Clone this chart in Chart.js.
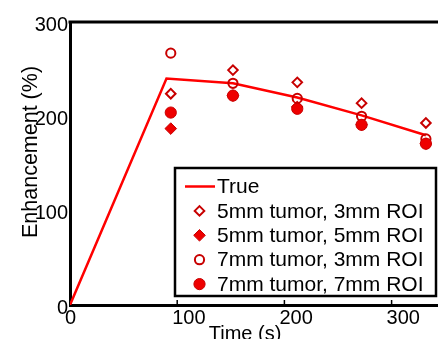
<!DOCTYPE html>
<html><head><meta charset="utf-8">
<script src="https://cdn.jsdelivr.net/npm/chart.js@4/dist/chart.umd.min.js"></script>
<style>
html,body{margin:0;padding:0;overflow:hidden;background:#fff;}
#wrap{position:absolute;left:0;top:0;width:438px;height:339px;overflow:hidden;}
#inner{position:absolute;left:0;top:0;width:452px;height:339px;}
</style></head><body>
<div id="wrap"><div id="inner"><canvas id="c" width="452" height="339"></canvas></div></div>
<script>
const trueTimes = [0, 90, 152, 212, 272, 332];
const trueValues = [0, 240, 235, 220, 201, 180];
const sampleTimes = [94, 152, 212, 272, 332];
const tumor5roi3 = [224, 249, 236, 214, 193];
const tumor5roi5 = [187, 222, 210, 191, 171];
const tumor7roi3 = [267, 235, 219, 200, 176];
const tumor7roi7 = [204, 222, 208, 191, 171];
const xTicks = [0, 100, 200, 300];
const yTicks = [0, 100, 200, 300];
const seriesLabels = ['True', '5mm tumor, 3mm ROI', '5mm tumor, 5mm ROI', '7mm tumor, 3mm ROI', '7mm tumor, 7mm ROI'];
const xTitle = 'Time (s)';
const yTitle = 'Enhancement (%)';

const FONT = '"Liberation Sans", Arial, sans-serif';
const pts = (xs, ys) => xs.map((t, i) => ({x: t, y: ys[i]}));

const DARK = '#c80000', RED = '#ee0000';

function drawMarker(ctx, style, r, cx, cy, fill, stroke, lw) {
  ctx.beginPath();
  if (style === 'circle') ctx.arc(cx, cy, r, 0, Math.PI * 2);
  else { ctx.moveTo(cx, cy - r); ctx.lineTo(cx + r, cy); ctx.lineTo(cx, cy + r); ctx.lineTo(cx - r, cy); ctx.closePath(); }
  if (fill && fill !== 'transparent') { ctx.fillStyle = fill; ctx.fill(); }
  ctx.lineWidth = lw; ctx.strokeStyle = stroke; ctx.stroke();
}

const decor = {
  id: 'decor',
  afterDraw(chart) {
    const {ctx, chartArea: a, scales: {x}} = chart;
    ctx.save();
    // top frame
    ctx.strokeStyle = '#000'; ctx.lineWidth = 3;
    ctx.beginPath(); ctx.moveTo(a.left - 1.5, a.top); ctx.lineTo(a.right + 2, a.top); ctx.stroke();
    // inward x ticks
    ctx.lineWidth = 1.5;
    xTicks.forEach(v => {
      if (v === 0) return;
      const px = x.getPixelForValue(v);
      ctx.beginPath(); ctx.moveTo(px, a.bottom); ctx.lineTo(px, a.bottom - 5); ctx.stroke();
    });
    // axis titles
    ctx.fillStyle = '#000';
    ctx.font = '20px ' + FONT;
    ctx.textAlign = 'center'; ctx.textBaseline = 'alphabetic';
    ctx.fillText(xTitle, 245, 340);
    ctx.save();
    ctx.font = '21.5px ' + FONT;
    ctx.translate(37, 152); ctx.rotate(-Math.PI / 2);
    ctx.fillText(yTitle, 0, 0);
    ctx.restore();
    // legend
    const bx = 175, by = 168, bw = 261, bh = 128;
    ctx.fillStyle = '#fff'; ctx.fillRect(bx, by, bw, bh);
    ctx.strokeStyle = '#000'; ctx.lineWidth = 2.5; ctx.strokeRect(bx, by, bw, bh);
    ctx.font = '21px ' + FONT; ctx.textAlign = 'left'; ctx.textBaseline = 'middle';
    chart.data.datasets.forEach((ds, i) => {
      const ry = 186.5 + 24.4 * i;
      if (ds.showLine) {
        ctx.strokeStyle = ds.borderColor; ctx.lineWidth = ds.borderWidth;
        ctx.beginPath(); ctx.moveTo(185, ry); ctx.lineTo(215, ry); ctx.stroke();
      } else {
        drawMarker(ctx, ds.pointStyle, ds.pointRadius, 199.5, ry, ds.backgroundColor, ds.borderColor, ds.borderWidth);
      }
      ctx.fillStyle = '#000';
      ctx.fillText(ds.label, 217, ry + 1);
    });
    ctx.restore();
  }
};

new Chart(document.getElementById('c'), {
  type: 'scatter',
  data: {
    datasets: [
      {label: seriesLabels[0], data: pts(trueTimes, trueValues), showLine: true, borderColor: '#ff0000', backgroundColor: '#ff0000', borderWidth: 2.5, pointRadius: 0, order: 5},
      {label: seriesLabels[1], data: pts(sampleTimes, tumor5roi3), pointStyle: 'rectRot', pointRadius: 4.8, borderWidth: 2, borderColor: DARK, backgroundColor: 'transparent', order: 4},
      {label: seriesLabels[2], data: pts(sampleTimes, tumor5roi5), pointStyle: 'rectRot', pointRadius: 5.8, borderWidth: 1, borderColor: DARK, backgroundColor: RED, order: 3},
      {label: seriesLabels[3], data: pts(sampleTimes, tumor7roi3), pointStyle: 'circle', pointRadius: 4.6, borderWidth: 2, borderColor: DARK, backgroundColor: 'transparent', order: 2},
      {label: seriesLabels[4], data: pts(sampleTimes, tumor7roi7), pointStyle: 'circle', pointRadius: 5.6, borderWidth: 1, borderColor: DARK, backgroundColor: RED, order: 1}
    ]
  },
  options: {
    responsive: false,
    animation: false,
    events: [],
    layout: {padding: {top: 22, left: 0, right: 0, bottom: 0}},
    plugins: {legend: {display: false}, tooltip: {enabled: false}},
    scales: {
      x: {
        type: 'linear', min: 0, max: 350,
        grid: {display: false, drawTicks: false},
        border: {display: true, color: '#000', width: 3},
        afterBuildTicks: s => { s.ticks = xTicks.map(v => ({value: v})); },
        afterFit: s => { s.height = 34; },
        ticks: {align: 'start', labelOffset: -5, padding: 1, color: '#000', font: {family: FONT, size: 20}, maxRotation: 0}
      },
      y: {
        type: 'linear', min: 0, max: 300,
        grid: {display: false, drawTicks: false},
        border: {display: true, color: '#000', width: 3},
        afterBuildTicks: s => { s.ticks = yTicks.map(v => ({value: v})); },
        afterFit: s => { s.width = 70; },
        ticks: {padding: 2, labelOffset: 3, color: '#000', font: {family: FONT, size: 20}}
      }
    }
  },
  plugins: [decor]
});
</script>
</body></html>
